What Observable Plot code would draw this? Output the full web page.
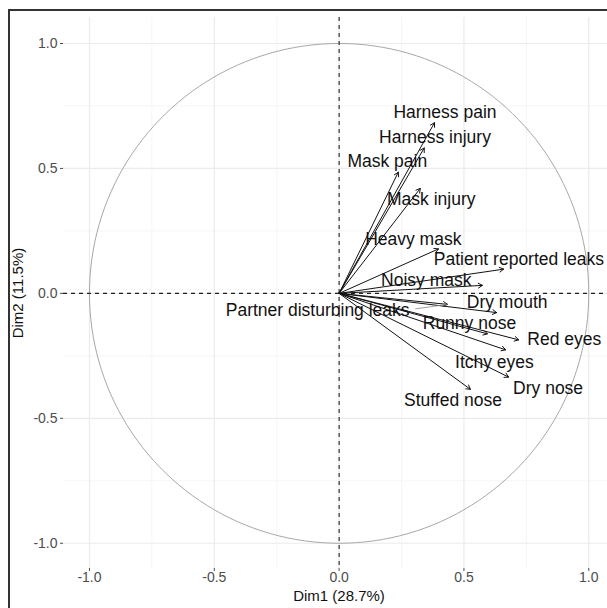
<!DOCTYPE html>
<html><head><meta charset="utf-8">
<script src="https://cdn.jsdelivr.net/npm/d3@7"></script>
<script src="https://cdn.jsdelivr.net/npm/@observablehq/plot@0.6"></script>
<style>
html,body{margin:0;padding:0;background:#fff;overflow:hidden;}
#frame{position:absolute;left:8px;top:9px;width:597px;height:597px;border-left:2px solid #333;border-top:2px solid #333;}
#frame svg{display:block;}
</style></head><body>
<div id="frame"></div>
<script>
const variables = ["Harness pain","Harness injury","Mask pain","Mask injury","Heavy mask","Patient reported leaks","Noisy mask","Partner disturbing leaks","Dry mouth","Runny nose","Red eyes","Itchy eyes","Dry nose","Stuffed nose"];
const dim1 = [0.382,0.341,0.237,0.325,0.398,0.659,0.574,0.434,0.631,0.594,0.719,0.667,0.679,0.526];
const dim2 = [0.683,0.582,0.485,0.420,0.178,0.097,0.032,-0.044,-0.077,-0.162,-0.186,-0.226,-0.335,-0.384];
const labelX = [0.424,0.384,0.193,0.369,0.297,0.720,0.349,-0.086,0.673,0.522,0.902,0.622,0.837,0.456];
const labelY = [0.723,0.626,0.529,0.376,0.218,0.137,0.053,-0.069,-0.036,-0.121,-0.186,-0.275,-0.380,-0.428];
// ggrepel leader segment (label side start) for "Partner disturbing leaks"
const repelVar = ["Partner disturbing leaks"];
const repelStartX = [0.305];
const repelStartY = [-0.062];
const majorTicks = [-1, -0.5, 0, 0.5, 1];
const minorTicks = [-0.75, -0.25, 0.25, 0.75];
const xTitle = "Dim1 (28.7%)";
const yTitle = "Dim2 (11.5%)";

const vars = variables.map((v, i) => ({v, x: dim1[i], y: dim2[i], lx: labelX[i], ly: labelY[i]}));
const repel = repelVar.map((v, i) => {
  const k = variables.indexOf(v);
  return {x1: repelStartX[i], y1: repelStartY[i], x2: dim1[k], y2: dim2[k]};
});
const circle = d3.range(0, 361, 2).map(a => ({x: Math.cos(a * Math.PI / 180), y: Math.sin(a * Math.PI / 180)}));
const fmt = d => d.toFixed(1);
const font = "Liberation Sans, Arial, Helvetica, sans-serif";

const chart = Plot.plot({
  width: 597,
  height: 597,
  marginLeft: 53,
  marginRight: 0,
  marginTop: 6,
  marginBottom: 40,
  x: {domain: [-1.104, 1.075]},
  y: {domain: [-1.101, 1.104]},
  style: {fontFamily: font, background: "white"},
  marks: [
    Plot.gridX(minorTicks, {stroke: "#f3f3f3", strokeOpacity: 1, strokeWidth: 0.8}),
    Plot.gridY(minorTicks, {stroke: "#f3f3f3", strokeOpacity: 1, strokeWidth: 0.8}),
    Plot.gridX(majorTicks, {stroke: "#ebebeb", strokeOpacity: 1, strokeWidth: 1.2}),
    Plot.gridY(majorTicks, {stroke: "#ebebeb", strokeOpacity: 1, strokeWidth: 1.2}),
    Plot.line(circle, {x: "x", y: "y", stroke: "#a8a8a8", strokeWidth: 1}),
    Plot.ruleX([0], {stroke: "#222", strokeWidth: 1.1, strokeDasharray: "4,4"}),
    Plot.ruleY([0], {stroke: "#222", strokeWidth: 1.1, strokeDasharray: "4,4"}),
    Plot.arrow(vars, {x1: 0, y1: 0, x2: "x", y2: "y", stroke: "#111", strokeWidth: 1, headLength: 7, headAngle: 60}),
    Plot.link(repel, {x1: "x1", y1: "y1", x2: "x2", y2: "y2", stroke: "#888", strokeWidth: 0.8}),
    Plot.text(vars, {x: "lx", y: "ly", text: "v", fontSize: 17.5, fill: "#111", fontFamily: font, textAnchor: "middle", lineAnchor: "middle"}),
    Plot.axisX(majorTicks, {tickFormat: fmt, tickSize: 3, tickPadding: 1, fontSize: 14, color: "#4d4d4d", label: null, fontFamily: font}),
    Plot.axisY(majorTicks, {tickFormat: fmt, tickSize: 3, tickPadding: 3, fontSize: 14, color: "#4d4d4d", label: null, fontFamily: font}),
    Plot.text([xTitle], {frameAnchor: "bottom", dx: 3.5, dy: 27.5, fontSize: 15, fill: "#111", fontFamily: font, textAnchor: "middle", lineAnchor: "middle"}),
    Plot.text([yTitle], {frameAnchor: "left", dx: -45, rotate: -90, fontSize: 15, fill: "#111", fontFamily: font, textAnchor: "middle", lineAnchor: "middle"})
  ]
});
document.getElementById("frame").appendChild(chart);
</script>
</body></html>
